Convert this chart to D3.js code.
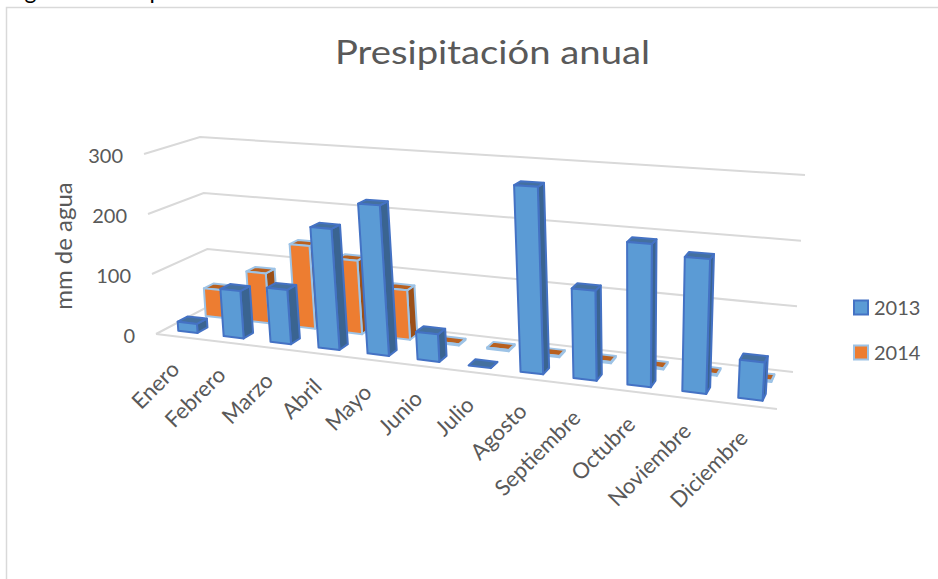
<!DOCTYPE html>
<html>
<head>
<meta charset="utf-8">
<script src="https://cdn.jsdelivr.net/npm/d3@7"></script>
<style>
  html, body { margin: 0; padding: 0; background: #fff; }
  svg { display: block; }
  text { font-family: Lato, "Open Sans", sans-serif; fill: #595959; }
</style>
</head>
<body>
<svg id="chart" width="938" height="579"></svg>
<script>
var months = ['Enero', 'Febrero', 'Marzo', 'Abril', 'Mayo', 'Junio', 'Julio', 'Agosto',
  'Septiembre', 'Octubre', 'Noviembre', 'Diciembre']
var rain2013 = [15, 78, 88, 194, 238, 43, 0, 285, 135, 212, 197, 55]
var rain2014 = [48, 85, 139, 122, 81, 2, 2, 2, 2, 2, 2, 2]
var yTicks = [0, 100, 200, 300]
var legendItems = ['2013', '2014']

var svg = d3.select('#chart')

// corners of the box as they land on screen: floor (w=0) and top (w=300)
var floorQuad = [[156, 334], [777, 409], [793, 372], [211, 305]]
var topQuad = [[144, 154], [790, 198], [805, 175], [200, 137]]

var floorH = homography(floorQuad)
var topH = homography(topQuad)

var xBand = d3.scaleBand().domain(months).range([0, 1]).paddingInner(0.57).paddingOuter(0.3)
var xWarp = d3.scalePow().exponent(1.02).domain([0, 1]).range([0, 1]) // a bit more perspective along x
var depth = d3.scaleOrdinal().domain(legendItems).range([0.16, 0.66])
var barDepth = 0.18
var wScale = d3.scaleLinear().domain([0, 300]).range([0, 1])

// unit square -> quad
function homography (q) {
  var dx1 = q[1][0] - q[2][0], dx2 = q[3][0] - q[2][0], sx = q[0][0] - q[1][0] + q[2][0] - q[3][0]
  var dy1 = q[1][1] - q[2][1], dy2 = q[3][1] - q[2][1], sy = q[0][1] - q[1][1] + q[2][1] - q[3][1]
  var den = dx1 * dy2 - dx2 * dy1
  var g = (sx * dy2 - dx2 * sy) / den
  var h = (dx1 * sy - sx * dy1) / den
  return function (u, v) {
    var d = g * u + h * v + 1
    return [
      ((q[1][0] - q[0][0] + g * q[1][0]) * u + (q[3][0] - q[0][0] + h * q[3][0]) * v + q[0][0]) / d,
      ((q[1][1] - q[0][1] + g * q[1][1]) * u + (q[3][1] - q[0][1] + h * q[3][1]) * v + q[0][1]) / d
    ]
  }
}

function project (u, v, value) {
  var a = floorH(xWarp(u), v), b = topH(xWarp(u), v), t = wScale(value)
  return [a[0] + (b[0] - a[0]) * t, a[1] + (b[1] - a[1]) * t]
}

var line = d3.line()
function poly (pts) { return line(pts) + 'Z' }

// chart frame
svg.append('rect')
  .attr('x', 6.5).attr('y', 7.5).attr('width', 960).attr('height', 600)
  .attr('fill', '#fff').attr('stroke', '#d9d9d9').attr('stroke-width', 1.5)

// caption above the frame, only its descenders show
svg.append('text').attr('x', 6).attr('y', -1).attr('font-size', 23)
  .style('fill', '#000')
  .text('Figura 4. Precipitación')

svg.append('text').attr('x', 335).attr('y', 64)
  .attr('font-size', 33).attr('textLength', 315).attr('lengthAdjust', 'spacingAndGlyphs')
  .text('Presipitación anual')

svg.append('text')
  .attr('transform', 'translate(72,246) rotate(-90)')
  .attr('text-anchor', 'middle').attr('font-size', 24).text('mm de agua')

// gridlines: front-left -> back-left -> back-right
var grid = svg.append('g').attr('fill', 'none').attr('stroke', '#d9d9d9').attr('stroke-width', 2)
yTicks.forEach(function (t) {
  grid.append('path').attr('d', line([project(0, 0, t), project(0, 1, t), project(1, 1, t)]))
})
grid.append('path').attr('d', line([project(0, 0, 0), project(1, 0, 0)]))

svg.append('g').selectAll('text').data(yTicks).enter().append('text')
  .attr('x', function (d) { return project(0, 0, d)[0] - 21 })
  .attr('y', function (d) { return project(0, 0, d)[1] + 9 })
  .attr('text-anchor', 'end').attr('font-size', 20)
  .text(function (d) { return d })

var styles = {
  '2013': { front: '#5b9bd5', top: '#44709f', side: '#3a6491', stroke: '#4472c4' },
  '2014': { front: '#ed7d31', top: '#b8601f', side: '#9c5018', stroke: '#9dc3e6' }
}

function drawBar (g, month, series, value) {
  var s = styles[series]
  var u0 = xBand(month), u1 = u0 + xBand.bandwidth()
  var v0 = depth(series), v1 = v0 + barDepth
  var side = [project(u1, v0, 0), project(u1, v1, 0), project(u1, v1, value), project(u1, v0, value)]
  var top = [project(u0, v0, value), project(u1, v0, value), project(u1, v1, value), project(u0, v1, value)]
  var front = [project(u0, v0, 0), project(u1, v0, 0), project(u1, v0, value), project(u0, v0, value)]
  var faces = [[side, s.side], [top, s.top]]
  if (value > 1.5) faces.push([front, s.front])
  faces.forEach(function (f) {
    g.append('path').attr('d', poly(f[0])).attr('fill', f[1])
      .attr('stroke', s.stroke).attr('stroke-width', 2).attr('stroke-linejoin', 'round')
  })
}

// back row first so the front row covers it
var bars = svg.append('g')
months.forEach(function (m, i) { drawBar(bars, m, '2014', rain2014[i]) })
months.forEach(function (m, i) { drawBar(bars, m, '2013', rain2013[i]) })

// month labels
svg.append('g').selectAll('text').data(months).enter().append('text')
  .attr('transform', function (d) {
    var p = project(xBand(d) + xBand.bandwidth() / 2, 0, 0)
    return 'translate(' + (p[0] + 2) + ',' + (p[1] + 34) + ') rotate(-45)'
  })
  .attr('text-anchor', 'end').attr('font-size', 22)
  .text(function (d) { return d })

// legend
var legendY = d3.scalePoint().domain(legendItems).range([307.5, 352.5])
var legend = svg.append('g').selectAll('g').data(legendItems).enter().append('g')
  .attr('transform', function (d) { return 'translate(854,' + legendY(d) + ')' })
legend.append('rect')
  .attr('x', 0).attr('y', -7).attr('width', 14).attr('height', 14)
  .attr('fill', function (d) { return styles[d].front })
  .attr('stroke', function (d) { return styles[d].stroke })
  .attr('stroke-width', 2)
legend.append('text').attr('x', 20).attr('y', 7).attr('font-size', 20)
  .text(function (d) { return d })
</script>
</body>
</html>
